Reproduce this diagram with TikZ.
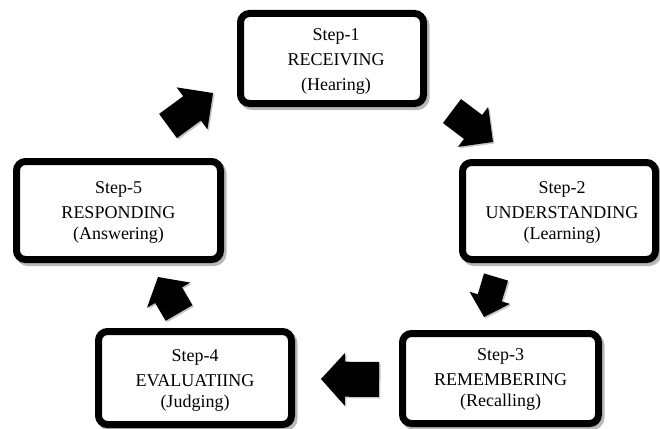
\documentclass[tikz,border=0pt]{standalone}
\usepackage{fontspec}
\setmainfont{Liberation Serif}
\usetikzlibrary{calc,shadows}
\tikzset{
  stepbox/.style={draw=black, fill=white, line width=7pt, rounded corners=9pt,
    inner sep=0pt,
    drop shadow={shadow xshift=2.5pt, shadow yshift=-3pt, opacity=0.28, fill=black, draw=black, line width=7pt}},
  steptext/.style={align=center, inner sep=0pt, font=\fontsize{18}{21}\selectfont},
  arrowfill/.style={fill=black,
    drop shadow={shadow xshift=1.5pt, shadow yshift=-1.5pt, opacity=0.22, fill=black}}
}
\newcommand\blockarr[6]{%
  \coordinate (#1t) at #2;
  \coordinate (#1p) at #3;
  \coordinate (#1h) at ($(#1p)!#6!(#1t)$);
  \fill[arrowfill] ($(#1t)!#4!90:(#1p)$) -- ($(#1h)!#4!90:(#1p)$) -- ($(#1h)!#5!90:(#1p)$)
    -- (#1p) -- ($(#1h)!#5!-90:(#1p)$) -- ($(#1h)!#4!-90:(#1p)$) -- ($(#1t)!#4!-90:(#1p)$) -- cycle;}
\begin{document}
\begin{tikzpicture}[x=1pt,y=-1pt]
\useasboundingbox[fill=white] (0,0) rectangle (660,428);
\node[stepbox, minimum width=183pt, minimum height=90pt,
  label={[steptext, xshift=4pt, yshift=-3pt]center:{Step-1\\[4pt]RECEIVING\\[4pt](Hearing)}}] (s1) at (332,58.5) {};
\node[stepbox, minimum width=193pt, minimum height=97pt,
  label={[steptext, xshift=3pt, yshift=-1pt]center:{Step-2\\[4pt]UNDERSTANDING\\(Learning)}}] (s2) at (559,211) {};
\node[stepbox, minimum width=196pt, minimum height=90pt,
  label={[steptext, yshift=-1pt]center:{Step-3\\[4pt]REMEMBERING\\(Recalling)}}] (s3) at (500.5,378.5) {};
\node[stepbox, minimum width=193pt, minimum height=93pt,
  label={[steptext, yshift=-2pt]center:{Step-4\\[4pt]EVALUATIING\\(Judging)}}] (s4) at (195,378) {};
\node[stepbox, minimum width=204pt, minimum height=98pt,
  label={[steptext, yshift=-2pt]center:{Step-5\\[4pt]RESPONDING\\(Answering)}}] (s5) at (118.5,210.5) {};
\blockarr{a}{(452,111)}{(493,142)}{15pt}{25pt}{25pt}
\blockarr{b}{(496,277)}{(484,317)}{12.5pt}{21pt}{20pt}
\blockarr{c}{(379,379.5)}{(321,379)}{17.5pt}{26.5pt}{24pt}
\blockarr{d}{(179,313)}{(158,277)}{15.5pt}{25pt}{21pt}
\blockarr{e}{(168,126)}{(213,93)}{15pt}{26pt}{26pt}
\end{tikzpicture}
\end{document}
